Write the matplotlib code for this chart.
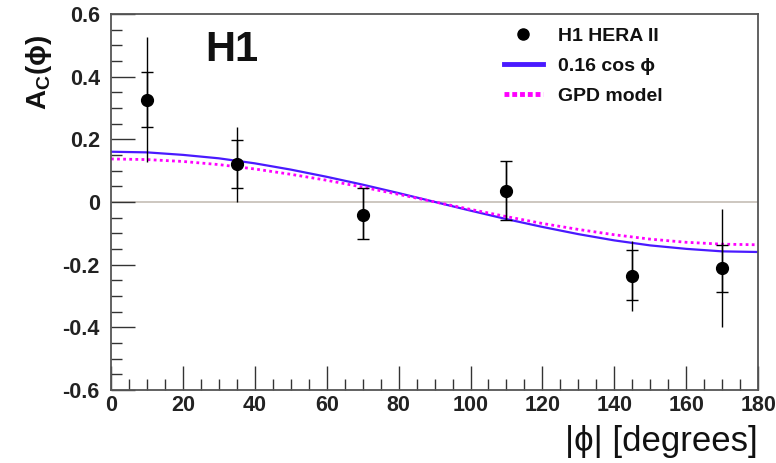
import matplotlib.pyplot as plt
from matplotlib.ticker import MultipleLocator
from matplotlib.lines import Line2D

plt.rcParams['font.family'] = ['Liberation Sans', 'DejaVu Sans']

# measured asymmetry A_C vs |phi|
phi = [10, 35, 70, 110, 145, 170]
ac = [0.326, 0.120, -0.041, 0.034, -0.238, -0.212]
stat_up = [0.090, 0.078, 0.086, 0.095, 0.085, 0.075]
stat_dn = [0.086, 0.075, 0.079, 0.093, 0.075, 0.075]
tot_up = [0.201, 0.118, 0.086, 0.095, 0.113, 0.188]
tot_dn = [0.198, 0.120, 0.079, 0.093, 0.110, 0.187]

# curves read at 10 degree steps
curve_phi = [0, 10, 20, 30, 40, 50, 60, 70, 80, 90, 100, 110, 120, 130, 140, 150, 160, 170, 180]
fit_cos = [0.160, 0.158, 0.150, 0.139, 0.123, 0.103, 0.080, 0.055, 0.028, 0.000,
           -0.028, -0.055, -0.080, -0.103, -0.123, -0.139, -0.150, -0.158, -0.160]
gpd_model = [0.137, 0.135, 0.129, 0.119, 0.105, 0.088, 0.069, 0.047, 0.024, 0.000,
             -0.024, -0.047, -0.069, -0.088, -0.105, -0.119, -0.129, -0.135, -0.137]

fig = plt.figure(figsize=(7.76, 4.63), dpi=100)
ax = fig.add_axes([0.143, 0.158, 0.834, 0.812])

ax.axhline(0, color='#c9c3bb', lw=1.3, zorder=1)
ax.plot(curve_phi, fit_cos, color='#4a1aff', lw=1.6, zorder=2)
ax.plot(curve_phi, gpd_model, color='#ff00ff', lw=2.0, ls=(0, (1, 1.2)), zorder=2)

ax.errorbar(phi, ac, yerr=[tot_dn, tot_up], fmt='none', ecolor='black', elinewidth=1.0, capsize=0, zorder=3)
ax.errorbar(phi, ac, yerr=[stat_dn, stat_up], fmt='o', color='black', ms=8.5,
            elinewidth=1.0, capsize=4.5, capthick=1.0, zorder=4)

ax.set_xlim(0, 180)
ax.set_ylim(-0.6, 0.6)
ax.xaxis.set_major_locator(MultipleLocator(20))
ax.xaxis.set_minor_locator(MultipleLocator(5))
ax.yaxis.set_minor_locator(MultipleLocator(0.05))
ax.tick_params(which='major', direction='in', length=17, width=1.0, color='#333333')
ax.tick_params(axis='y', which='major', pad=8)
ax.tick_params(axis='x', which='major', pad=4)
ax.tick_params(which='minor', direction='in', length=8, width=1.0, color='#333333')
ax.set_yticks([-0.6, -0.4, -0.2, 0, 0.2, 0.4, 0.6])
ax.set_yticklabels(['-0.6', '-0.4', '-0.2', '0', '0.2', '0.4', '0.6'])
for lab in ax.get_xticklabels() + ax.get_yticklabels():
    lab.set_fontweight('bold')
    lab.set_fontsize(15.5)
    lab.set_color('#222222')

for sp in ax.spines.values():
    sp.set_color('#555555')
    sp.set_linewidth(1.3)

ax.set_xlabel('|ϕ| [degrees]', loc='right', fontsize=25, labelpad=6, color='#111111')
ax.set_ylabel('A$_\\mathregular{C}$(ϕ)', fontsize=20, fontweight='bold', color='#111111')
ax.yaxis.set_label_coords(-0.088, 0.845)

ax.text(0.145, 0.905, 'H1', transform=ax.transAxes, fontsize=30, fontweight='bold',
        ha='left', va='center', color='#111111')

handles = [
    Line2D([], [], ls='none', marker='o', color='black', ms=8),
    Line2D([], [], color='#4a1aff', lw=3.5),
    Line2D([], [], color='#ff00ff', lw=3.5, ls=(0, (1, 0.6))),
]
labels = ['H1 HERA II', '0.16 cos ϕ', 'GPD model']
leg = ax.legend(handles, labels, loc='upper left', bbox_to_anchor=(0.58, 1.01),
                frameon=False, handlelength=2.0, handletextpad=0.8, labelspacing=0.62,
                prop={'weight': 'bold', 'size': 14})
for t in leg.get_texts():
    t.set_color('#111111')
plt.savefig('out.png', dpi=100)
